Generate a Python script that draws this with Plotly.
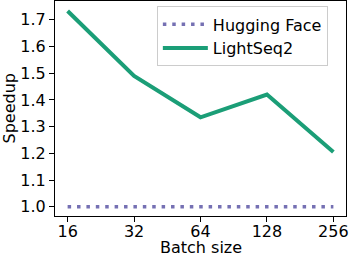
import plotly.graph_objects as go

batch_sizes = ["16", "32", "64", "128", "256"]
hugging_face = [1.0, 1.0, 1.0, 1.0, 1.0]
lightseq2 = [1.733, 1.49, 1.335, 1.42, 1.205]
y_ticks = [1.0, 1.1, 1.2, 1.3, 1.4, 1.5, 1.6, 1.7]

font = dict(family="DejaVu Sans", size=16, color="black")

fig = go.Figure()
fig.add_trace(go.Scatter(
    x=list(range(len(batch_sizes))), y=hugging_face, mode="lines", name="Hugging Face",
    line=dict(color="#7570b3", width=3.5, dash="3.5px,5.9px"),
))
fig.add_trace(go.Scatter(
    x=list(range(len(batch_sizes))), y=lightseq2, mode="lines", name="LightSeq2",
    line=dict(color="#1b9e77", width=4),
))

fig.update_layout(
    width=349, height=258,
    margin=dict(l=55, r=3, t=1, b=42),
    paper_bgcolor="white", plot_bgcolor="white",
    font=font,
    showlegend=True,
    legend=dict(
        x=0.35, y=0.975, xanchor="left", yanchor="top",
        bordercolor="#cccccc", borderwidth=1, bgcolor="rgba(255,255,255,0.8)",
        font=font, itemwidth=45, tracegroupgap=0,
    ),
    xaxis=dict(
        range=[-0.19, 4.19],
        tickmode="array", tickvals=list(range(len(batch_sizes))), ticktext=batch_sizes,
        showgrid=False, zeroline=False, showline=True, linecolor="black", linewidth=1,
        mirror=True, ticks="outside", ticklen=5, tickcolor="black",
        tickfont=font, ticklabelstandoff=-4,
    ),
    yaxis=dict(
        range=[0.9655, 1.7705],
        tickmode="array", tickvals=y_ticks, ticktext=[f"{v:.1f}" for v in y_ticks],
        showgrid=False, zeroline=False, showline=True, linecolor="black", linewidth=1,
        mirror=True, ticks="outside", ticklen=5, tickcolor="black",
        tickfont=font,
    ),
    annotations=[
        dict(text="Batch size", xref="paper", yref="paper", x=0.5, y=0,
             xanchor="center", yanchor="bottom", yshift=-42, borderpad=0,
             showarrow=False, font=font),
        dict(text="Speedup", xref="paper", yref="paper", x=0, y=0.5, textangle=-90,
             xanchor="center", yanchor="middle", xshift=-46, showarrow=False, font=font),
    ],
)

fig.write_html("out.html", config={"displayModeBar": False},
               post_script="document.body.style.margin='0';document.body.style.overflow='hidden';")
